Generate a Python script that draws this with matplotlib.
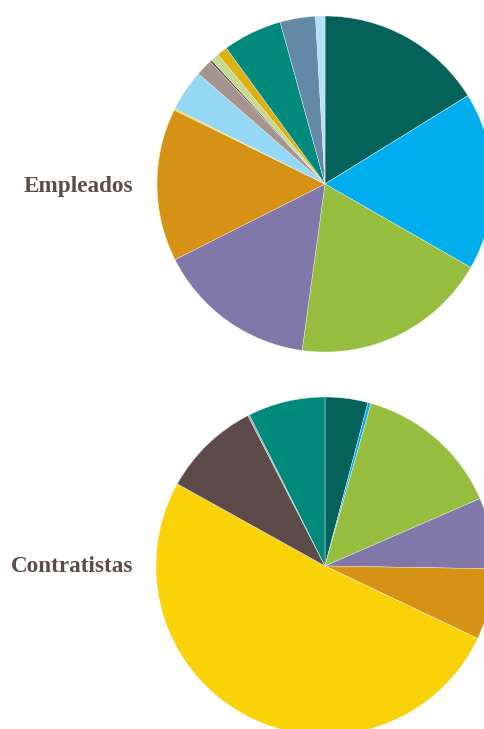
import matplotlib
matplotlib.use("Agg")
import matplotlib.pyplot as plt

# Data (percent shares, clockwise from 12 o'clock)
emp_values = [16.2, 17.1, 18.9, 15.4, 14.7, 0.15, 4.0, 1.6, 0.2, 0.8, 1.0, 5.7, 3.4, 0.9]
emp_colors = ["#05625A", "#00AEEF", "#97BD3F", "#7F78A8", "#D69214", "#FFD200",
              "#95D8F5", "#A5958F", "#4E3F3B", "#C6DA8F", "#DDB00F", "#008A7B",
              "#6389A7", "#B3E2F8"]

con_values = [4.1, 0.3, 14.1, 6.8, 6.8, 51.1, 9.4, 0.15, 7.4]
con_colors = ["#05625A", "#00AEEF", "#97BD3F", "#7F78A8", "#D69214", "#F9D208",
              "#5C4B48", "#A09590", "#008A7B"]

labels = ["Empleados", "Contratistas"]

W, H = 484, 729
fig = plt.figure(figsize=(W / 100, H / 100), dpi=100)
ax = fig.add_axes([0, 0, 1, 1])

wp = dict(linewidth=0.3, edgecolor="#f0f0f0")
ax.pie(emp_values, colors=emp_colors, startangle=90, counterclock=False,
       center=(325, H - 184), radius=168, wedgeprops=wp, frame=True)
ax.pie(con_values, colors=con_colors, startangle=90, counterclock=False,
       center=(325, H - 566), radius=169, wedgeprops=wp, frame=True)
ax.set_xlim(0, W)
ax.set_ylim(0, H)
ax.axis("off")

txt = dict(ha="right", va="center", fontsize=16.7, fontweight="bold",
           color="#5C4B48", family="Liberation Serif")
ax.text(133, H - 186, labels[0], **txt)
ax.text(133, H - 566, labels[1], **txt)

fig.savefig("out.png", dpi=100)
